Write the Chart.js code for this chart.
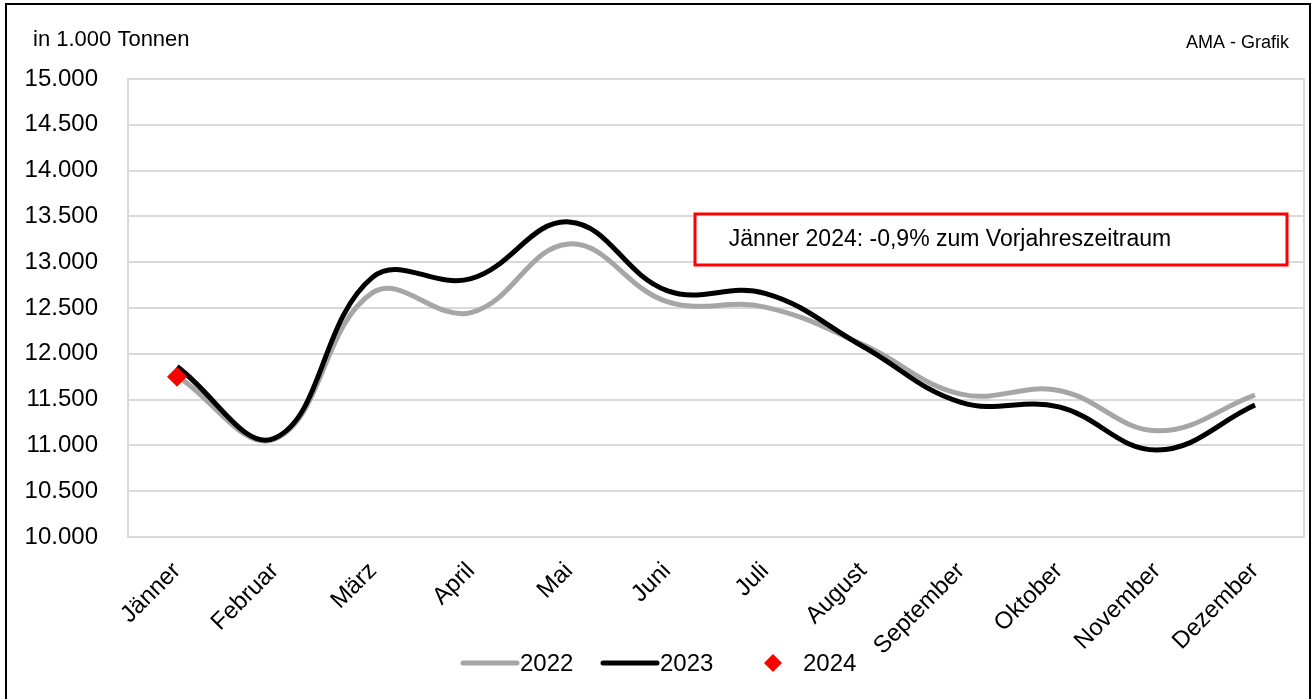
<!DOCTYPE html>
<html>
<head>
<meta charset="utf-8">
<script src="https://cdn.jsdelivr.net/npm/chart.js@4.4.1/dist/chart.umd.min.js"></script>
<style>
  body { margin: 0; background: #fff; }
  #wrap { width: 1314px; height: 699px; position: relative; }
</style>
</head>
<body>
<div id="wrap"><canvas id="mengeChart" width="1314" height="699"></canvas></div>
<script>
const months = ["Jänner", "Februar", "März", "April", "Mai", "Juni", "Juli", "August", "September", "Oktober", "November", "Dezember"];
const values2022 = [11760, 11070, 12670, 12450, 13200, 12570, 12510, 12100, 11560, 11600, 11160, 11550];
const values2023 = [11860, 11080, 12840, 12820, 13440, 12690, 12660, 12080, 11470, 11420, 10950, 11440];
const values2024 = [11750];
const yTicks = { min: 10000, max: 15000, step: 500 };
const unitLabel = "in 1.000 Tonnen";
const sourceLabel = "AMA - Grafik";
const noteText = "Jänner 2024: -0,9% zum Vorjahreszeitraum";

const FONT = "'Liberation Sans', Arial, sans-serif";

function fmt(v) {
    return String(v).replace(/\B(?=(\d{3})+(?!\d))/g, ".");
}

const extras = {
    id: "extras",
    beforeDraw(chart) {
        const ctx = chart.ctx;
        const a = chart.chartArea;
        ctx.save();
        ctx.fillStyle = "#fff";
        ctx.fillRect(0, 0, chart.width, chart.height);
        ctx.strokeStyle = "#d9d9d9";
        ctx.lineWidth = 2;
        ctx.strokeRect(a.left, a.top, a.right - a.left, a.bottom - a.top);
        ctx.restore();
    },
    afterDraw(chart) {
        const ctx = chart.ctx;
        ctx.save();
        // outer frame
        ctx.strokeStyle = "#000";
        ctx.lineWidth = 2;
        ctx.beginPath();
        ctx.moveTo(6, 710);
        ctx.lineTo(6, 4);
        ctx.lineTo(1310, 4);
        ctx.lineTo(1310, 710);
        ctx.stroke();

        ctx.fillStyle = "#000";
        ctx.textBaseline = "middle";
        ctx.font = "22px " + FONT;
        ctx.textAlign = "left";
        ctx.fillText(unitLabel, 33, 40);
        ctx.font = "18px " + FONT;
        ctx.fillText(sourceLabel, 1186, 43);

        // note box
        ctx.fillStyle = "#fff";
        ctx.fillRect(695, 214, 592, 51);
        ctx.strokeStyle = "#ff0000";
        ctx.lineWidth = 3;
        ctx.strokeRect(695, 214, 592, 51);
        ctx.fillStyle = "#000";
        ctx.font = "23px " + FONT;
        ctx.textAlign = "center";
        ctx.fillText(noteText, 950, 240);

        // legend
        const ds = chart.data.datasets;
        const ly = 663;
        ctx.font = "24px " + FONT;
        ctx.textAlign = "left";
        ctx.lineCap = "round";
        [[ds[0], 463], [ds[1], 603]].forEach(([d, x]) => {
            ctx.strokeStyle = d.borderColor;
            ctx.lineWidth = d.borderWidth;
            ctx.beginPath();
            ctx.moveTo(x, ly);
            ctx.lineTo(x + 54, ly);
            ctx.stroke();
            ctx.fillStyle = "#000";
            ctx.fillText(d.label, x + 57, ly + 1);
        });
        ctx.fillStyle = ds[2].backgroundColor;
        ctx.beginPath();
        ctx.moveTo(773, ly - 9);
        ctx.lineTo(782, ly);
        ctx.lineTo(773, ly + 9);
        ctx.lineTo(764, ly);
        ctx.closePath();
        ctx.fill();
        ctx.fillStyle = "#000";
        ctx.fillText(ds[2].label, 803, ly + 1);
        ctx.restore();
    }
};

const ctx = document.getElementById("mengeChart").getContext("2d");
new Chart(ctx, {
    type: "line",
    data: {
        labels: months,
        datasets: [
            {
                label: "2022",
                data: values2022,
                borderColor: "#a6a6a6",
                borderWidth: 5,
                pointRadius: 0,
                tension: 0.4,
                order: 2
            },
            {
                label: "2023",
                data: values2023,
                borderColor: "#000000",
                borderWidth: 5,
                pointRadius: 0,
                tension: 0.4,
                order: 1
            },
            {
                label: "2024",
                data: values2024,
                showLine: false,
                pointStyle: "rectRot",
                pointRadius: 10,
                backgroundColor: "#ff0000",
                borderColor: "#ff0000",
                borderWidth: 0,
                order: 0
            }
        ]
    },
    plugins: [extras],
    options: {
        responsive: false,
        animation: false,
        layout: { padding: { top: 79, right: 8, left: 0, bottom: 0 } },
        plugins: {
            legend: { display: false },
            tooltip: { enabled: false }
        },
        scales: {
            x: {
                offset: true,
                afterFit: s => { s.height = 162; s.paddingLeft = 0; s.paddingRight = 0; },
                grid: { display: false, offset: true },
                border: { display: false },
                ticks: {
                    autoSkip: false,
                    minRotation: 45,
                    maxRotation: 45,
                    padding: 12,
                    color: "#000",
                    font: { family: FONT, size: 24 }
                }
            },
            y: {
                min: yTicks.min,
                max: yTicks.max,
                afterFit: s => { s.width = 128; s.paddingTop = 0; s.paddingBottom = 0; },
                grid: { color: "#d9d9d9", lineWidth: 2, drawTicks: false },
                border: { display: false },
                ticks: {
                    stepSize: yTicks.step,
                    padding: 30,
                    color: "#000",
                    font: { family: FONT, size: 24 },
                    callback: v => fmt(v)
                }
            }
        }
    }
});
</script>
</body>
</html>
